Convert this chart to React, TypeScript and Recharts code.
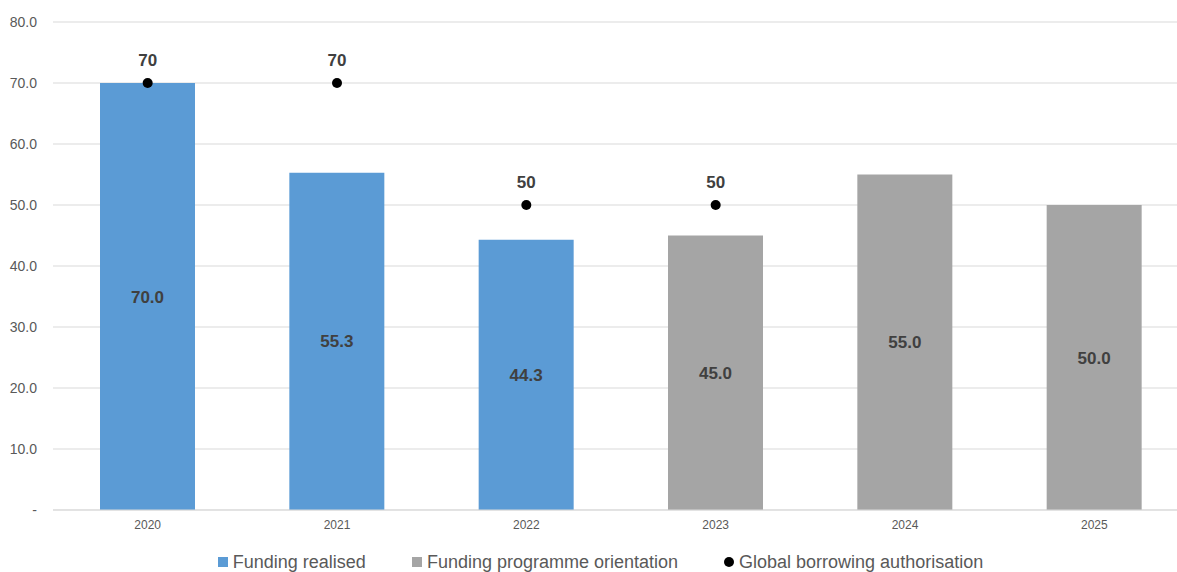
import React from "react";
import {
  ComposedChart,
  Bar,
  Scatter,
  XAxis,
  YAxis,
  CartesianGrid,
  Legend,
  LabelList,
} from "recharts";

// Chart values
const years = ["2020", "2021", "2022", "2023", "2024", "2025"];
const fundingRealised = [70.0, 55.3, 44.3, null, null, null];
const programmeOrientation = [null, null, null, 45.0, 55.0, 50.0];
const borrowingAuthorisation = [70, 70, 50, 50, null, null];
const yTicks = [0, 10, 20, 30, 40, 50, 60, 70, 80];

const BLUE = "#5B9BD5";
const GREY = "#A5A5A5";
const FONT = "Liberation Sans, Arial, sans-serif";

const data = years.map((year, i) => ({
  year,
  realised: fundingRealised[i],
  orientation: programmeOrientation[i],
  authorisation: borrowingAuthorisation[i],
}));

const fmtBar = (v: any) => (v == null ? "" : Number(v).toFixed(1));
const fmtDot = (v: any) => (v == null ? "" : String(v));

const legendItems = [
  { label: "Funding realised", color: BLUE, shape: "square" },
  { label: "Funding programme orientation", color: GREY, shape: "square" },
  { label: "Global borrowing authorisation", color: "#000000", shape: "circle" },
];

const CustomLegend = () => (
  <div
    style={{
      display: "flex",
      justifyContent: "center",
      gap: 46,
      fontFamily: FONT,
      fontSize: 18,
      lineHeight: "20px",
      color: "#595959",
      width: 1153,
      paddingLeft: 24,
    }}
  >
    {legendItems.map((item) => (
      <div key={item.label} style={{ display: "flex", alignItems: "center", gap: 5 }}>
        <span
          style={{
            display: "inline-block",
            width: 10,
            height: 10,
            background: item.color,
            borderRadius: item.shape === "circle" ? "50%" : 0,
          }}
        />
        <span>{item.label}</span>
      </div>
    ))}
  </div>
);

const App: React.FC = () => {
  return (
    <div
      style={{
        position: "absolute",
        left: 0,
        top: 0,
        width: 1177,
        height: 572,
        overflow: "hidden",
        background: "#fff",
      }}
    >
      <ComposedChart
        width={1177}
        height={572}
        data={data}
        margin={{ top: 22, right: -12, bottom: 0, left: 0 }}
        style={{ overflow: "hidden" }}
      >
        <CartesianGrid vertical={false} stroke="#d9d9d9" />
        <XAxis
          dataKey="year"
          axisLine={{ stroke: "#d9d9d9" }}
          tickLine={false}
          tick={{ fill: "#595959", fontSize: 12, fontFamily: FONT }}
          tickMargin={4}
          height={42}
        />
        <YAxis
          domain={[0, 80]}
          ticks={yTicks}
          axisLine={false}
          tickLine={false}
          tickSize={0}
          tickMargin={16}
          width={53}
          tick={{ fill: "#595959", fontSize: 14, fontFamily: FONT }}
          tickFormatter={(v: number) => (v === 0 ? "-" : v.toFixed(1))}
        />
        <Legend
          verticalAlign="bottom"
          content={<CustomLegend />}
          wrapperStyle={{ bottom: 0, left: 0, height: 20, width: 1177 }}
        />
        <Bar
          dataKey="realised"
          stackId="a"
          fill={BLUE}
          barSize={95}
          name="Funding realised"
          isAnimationActive={false}
        >
          <LabelList
            dataKey="realised"
            position="center"
            formatter={fmtBar}
            fill="#404040"
            style={{ fontSize: 17, fontWeight: "bold", fontFamily: FONT }}
          />
        </Bar>
        <Bar
          dataKey="orientation"
          stackId="a"
          fill={GREY}
          barSize={95}
          name="Funding programme orientation"
          isAnimationActive={false}
        >
          <LabelList
            dataKey="orientation"
            position="center"
            formatter={fmtBar}
            fill="#404040"
            style={{ fontSize: 17, fontWeight: "bold", fontFamily: FONT }}
          />
        </Bar>
        <Scatter
          dataKey="authorisation"
          fill="#000000"
          name="Global borrowing authorisation"
          isAnimationActive={false}
          shape={(props: any) =>
            props.payload && props.payload.authorisation != null ? (
              <circle cx={props.cx} cy={props.cy} r={5} fill="#000" />
            ) : (
              <g />
            )
          }
        >
          <LabelList
            dataKey="authorisation"
            position="top"
            offset={12}
            formatter={fmtDot}
            fill="#404040"
            style={{ fontSize: 17, fontWeight: "bold", fontFamily: FONT }}
          />
        </Scatter>
      </ComposedChart>
    </div>
  );
};

export default App;
